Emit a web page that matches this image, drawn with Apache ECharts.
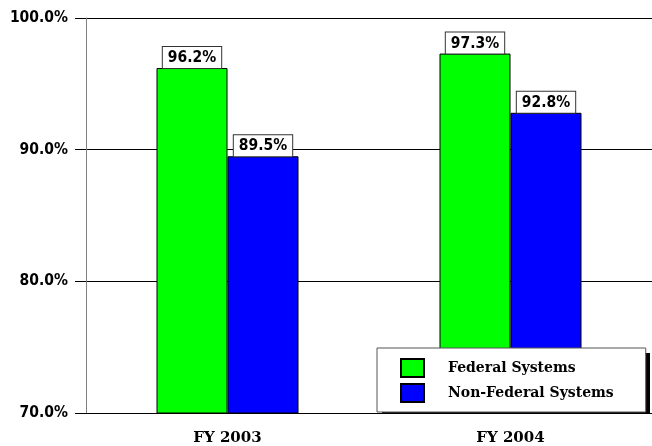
<!DOCTYPE html>
<html>
<head>
<meta charset="utf-8">
<title>Federal vs Non-Federal Systems</title>
<script src="https://cdn.jsdelivr.net/npm/echarts@6/dist/echarts.min.js"></script>
<style>
  html, body { margin: 0; padding: 0; background: #fff; }
  #chart { width: 652px; height: 446px; }
</style>
</head>
<body>
<div id="chart"></div>
<script>
  // categories and values
  const categories = ['FY 2003', 'FY 2004'];
  const seriesNames = ['Federal Systems', 'Non-Federal Systems'];
  const federalValues = [96.2, 97.3];
  const nonFederalValues = [89.5, 92.8];
  const yMin = 70, yMax = 100, yStep = 10;

  const sansBold = "'DejaVu Sans Condensed', 'DejaVu Sans', sans-serif";
  const serifBold = "'DejaVu Serif', serif";

  // legend box (the drop shadow is a plain rect behind it)
  const legendBox = { left: 377, top: 348, width: 268, height: 60 };

  let barLabel = {
    show: true,
    position: 'top',
    distance: 0,
    color: '#000',
    fontFamily: sansBold,
    fontWeight: 'bold',
    fontSize: 15.5,
    backgroundColor: '#fff',
    borderColor: '#333',
    borderWidth: 1,
    padding: [3, 5, 2, 5],
    formatter: p => p.value.toFixed(1) + '%'
  };

  let chart = echarts.init(document.getElementById('chart'));
  chart.setOption({
    animation: false,
    grid: { left: 86, right: 0, top: 18, bottom: 33 },
    graphic: [{
      type: 'rect',
      z: 3,
      shape: { x: legendBox.left + 5, y: legendBox.top + 5, width: legendBox.width, height: legendBox.height },
      style: { fill: '#000' }
    }],
    legend: {
      orient: 'vertical',
      left: legendBox.left,
      top: legendBox.top,
      width: legendBox.width,
      padding: [10, 32, 9, 23],
      itemWidth: 23,
      itemHeight: 18,
      itemGap: 5,
      icon: 'rect',
      backgroundColor: '#fff',
      borderColor: '#555',
      borderWidth: 1,
      z: 4,
      textStyle: {
        fontFamily: serifBold,
        fontWeight: 'bold',
        fontSize: 14,
        color: '#000',
        padding: [0, 0, 0, 19]
      },
      data: seriesNames
    },
    xAxis: {
      type: 'category',
      data: categories,
      axisLine: { lineStyle: { color: '#000', width: 1 } },
      axisTick: { alignWithLabel: true, length: 8, lineStyle: { color: '#666' } },
      axisLabel: {
        margin: 18,
        color: '#000',
        fontFamily: serifBold,
        fontWeight: 'bold',
        fontSize: 15
      }
    },
    yAxis: {
      type: 'value',
      min: yMin,
      max: yMax,
      interval: yStep,
      axisLine: { show: true, lineStyle: { color: '#808080', width: 1 } },
      axisTick: { show: true, length: 11, lineStyle: { color: '#000' } },
      splitLine: { lineStyle: { color: '#000', width: 1 } },
      axisLabel: {
        margin: 18,
        color: '#000',
        fontFamily: sansBold,
        fontWeight: 'bold',
        fontSize: 15.5,
        formatter: v => v.toFixed(1) + '%'
      }
    },
    series: [
      {
        name: seriesNames[0],
        type: 'bar',
        barWidth: 71,
        barGap: '0%',
        data: federalValues,
        itemStyle: { color: '#00ff00', borderColor: '#000', borderWidth: 1 },
        label: barLabel
      },
      {
        name: seriesNames[1],
        type: 'bar',
        barWidth: 71,
        barGap: '0%',
        data: nonFederalValues,
        itemStyle: { color: '#0000ff', borderColor: '#000', borderWidth: 1 },
        label: barLabel
      }
    ]
  });
</script>
</body>
</html>
